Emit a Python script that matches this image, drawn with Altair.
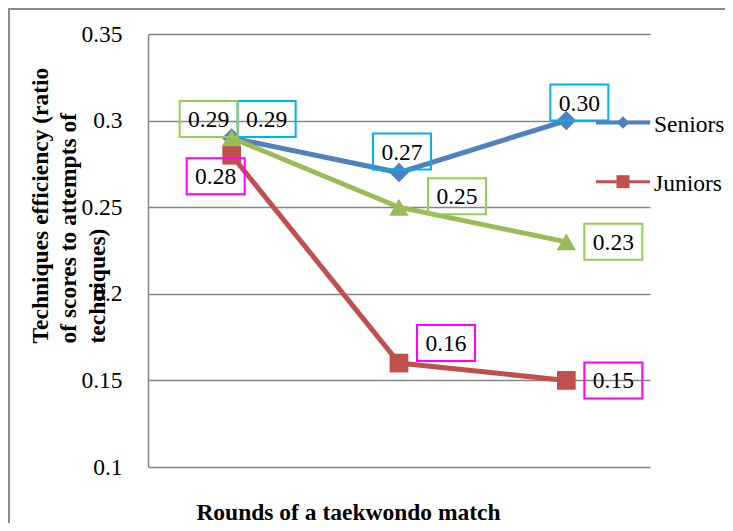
import altair as alt
import pandas as pd

# ---------------- data ----------------
ROUNDS = [1, 2, 3]
SERIES = ["Seniors", "Juniors", "Series 3"]
SENIORS = [0.29, 0.27, 0.30]
JUNIORS = [0.28, 0.16, 0.15]
SERIES3 = [0.29, 0.25, 0.23]
Y_TICKS = [0.1, 0.15, 0.2, 0.25, 0.3, 0.35]
LEGEND_SERIES = ["Seniors", "Juniors"]

# ---------------- styles ----------------
LINE_COLORS = {"Seniors": "#4F81BD", "Juniors": "#C0504D", "Series 3": "#9BBB59"}
BOX_COLORS = {"Seniors": "#00B0F0", "Juniors": "#FF00FF", "Series 3": "#92D050"}
SHAPES = {"Seniors": "diamond", "Juniors": "square", "Series 3": "triangle-up"}
MARKER_SIZES = {"Seniors": 380, "Juniors": 350, "Series 3": 380}
# data label offsets (px) relative to each point
LABEL_OFFSETS = {
    ("Seniors", 1): (35, -19), ("Seniors", 2): (3, -21), ("Seniors", 3): (13, -18),
    ("Juniors", 1): (-16, 21), ("Juniors", 2): (47, -20), ("Juniors", 3): (47, 0),
    ("Series 3", 1): (-23, -19), ("Series 3", 2): (58, -11), ("Series 3", 3): (47, 0),
}
SERIF = "Liberation Serif"
FS = 23.5
GRID = "#868686"
BOX_PATH = "M-1.611,-1L1.611,-1L1.611,1L-1.611,1Z"

rows = []
for name, vals in zip(SERIES, [SENIORS, JUNIORS, SERIES3]):
    for r, v in zip(ROUNDS, vals):
        rows.append({"series": name, "round": r, "value": v, "label": f"{v:.2f}"})
df = pd.DataFrame(rows)
legend_df = pd.DataFrame({"series": LEGEND_SERIES})

W, H = 502, 433

X = alt.X(
    "round:Q",
    scale=alt.Scale(domain=[0.5, 3.5], nice=False, zero=False),
    axis=alt.Axis(
        title="Rounds of a taekwondo match", labels=False, ticks=False, domain=False,
        grid=False, titleFont=SERIF, titleFontSize=FS, titleFontWeight="bold",
        titleColor="black", titleX=200, titleY=52, titleAlign="center",
        titleBaseline="alphabetic",
    ),
)
Y = alt.Y(
    "value:Q",
    scale=alt.Scale(domain=[0.1, 0.35], nice=False, zero=False),
    axis=alt.Axis(
        values=Y_TICKS, format=".2~f", labelFont=SERIF, labelFontSize=FS,
        labelColor="black", labelPadding=26, ticks=False, domainColor=GRID,
        domainWidth=1.5, gridColor=GRID, gridWidth=1.5,
        title=["Techniques efficiency (ratio", "of scores to attempts of", "techniques)"],
        titleFont=SERIF, titleFontSize=FS, titleFontWeight="bold", titleColor="black",
        titleAngle=270, titleAlign="left", titleBaseline="middle", titleLineHeight=28.5,
        titleX=-108, titleY=309,
    ),
)

base = alt.Chart(df)
layers = []

# outer frame (top and left edges)
frame = alt.Chart(legend_df.head(1))
layers.append(frame.mark_rule(color="#8c8c8c", strokeWidth=2).encode(
    x=alt.value(-140), x2=alt.value(600), y=alt.value(-25)))
layers.append(frame.mark_rule(color="#8c8c8c", strokeWidth=2).encode(
    x=alt.value(-139), y=alt.value(-26), y2=alt.value(489)))

for name in SERIES:
    sub = base.transform_filter(alt.datum.series == name)
    layers.append(sub.mark_line(color=LINE_COLORS[name], strokeWidth=5).encode(x=X, y=Y))
    layers.append(sub.mark_point(shape=SHAPES[name], filled=True, opacity=1,
                                 size=MARKER_SIZES[name], color=LINE_COLORS[name])
                  .encode(x=X, y=Y))

for name in SERIES:
    for r in ROUNDS:
        dx, dy = LABEL_OFFSETS[(name, r)]
        sub = base.transform_filter((alt.datum.series == name) & (alt.datum.round == r))
        layers.append(sub.mark_point(shape=BOX_PATH, size=1296, filled=False, opacity=1,
                                     stroke=BOX_COLORS[name], strokeWidth=2,
                                     xOffset=dx, yOffset=dy).encode(x=X, y=Y))
        layers.append(sub.mark_text(font=SERIF, fontSize=FS, color="black",
                                    baseline="middle", align="center",
                                    dx=dx, dy=dy + 1).encode(x=X, y=Y, text="label:N"))

# legend (manual, placed like the original)
LEGEND_POS = {"Seniors": 88.5, "Juniors": 147.7}
LEGEND_WIDTH = {"Seniors": 4, "Juniors": 3}
LEGEND_SIZE = {"Seniors": 160, "Juniors": 170}
for name in LEGEND_SERIES:
    ly = LEGEND_POS[name]
    lg = alt.Chart(legend_df).transform_filter(alt.datum.series == name)
    layers.append(lg.mark_rule(color=LINE_COLORS[name], strokeWidth=LEGEND_WIDTH[name]).encode(
        x=alt.value(448), x2=alt.value(502), y=alt.value(ly)))
    layers.append(lg.mark_point(shape=SHAPES[name], filled=True, opacity=1,
                                size=LEGEND_SIZE[name], color=LINE_COLORS[name]).encode(
        x=alt.value(475), y=alt.value(ly)))
    layers.append(lg.mark_text(font=SERIF, fontSize=FS, color="black", align="left",
                               baseline="middle").encode(
        x=alt.value(506), y=alt.value(ly + 2), text="series:N"))

chart = alt.layer(*layers).properties(
    width=W, height=H,
    autosize=alt.AutoSizeParams(type="none"),
    padding={"left": 140, "top": 26, "right": 75, "bottom": 56},
    background="white",
).configure_view(strokeWidth=0)

chart.save("out.html", embed_options={"renderer": "svg", "actions": False})
